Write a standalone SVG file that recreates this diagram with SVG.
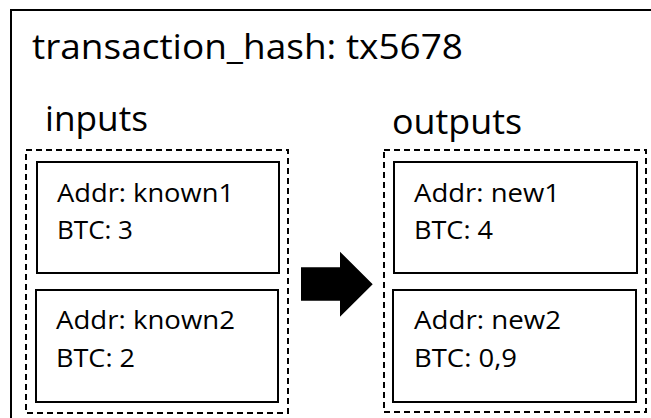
<svg xmlns="http://www.w3.org/2000/svg" width="651" height="418" viewBox="0 0 651 418">
  <style>
    .frame { fill: #fff; stroke: #000; stroke-width: 2; }
    .group { fill: none; stroke: #000; stroke-width: 2; stroke-dasharray: 6 4; }
    .box { fill: #fff; stroke: #000; stroke-width: 2; }
    .big { font-family: "Open Sans", "Noto Sans", sans-serif; font-size: 34px; fill: #000; }
    .txt { font-family: "Open Sans", "Noto Sans", sans-serif; font-size: 25px; fill: #000; }
  </style>
  <rect x="0" y="0" width="651" height="418" fill="#fff"/>
  <g id="transaction">
    <rect class="frame" x="11" y="10" width="700" height="500"/>
    <text class="big" x="32" y="59" textLength="431" lengthAdjust="spacingAndGlyphs">transaction_hash: tx5678</text>
  </g>
  <g id="inputs">
    <text class="big" x="45" y="131" textLength="103" lengthAdjust="spacingAndGlyphs">inputs</text>
    <rect class="group" x="26" y="150" width="262" height="263"/>
  </g>
  <g id="outputs">
    <text class="big" x="392" y="134" textLength="130" lengthAdjust="spacingAndGlyphs">outputs</text>
    <rect class="group" x="384" y="150" width="262" height="262"/>
  </g>
  <g id="known1">
    <rect class="box" x="37" y="162" width="242" height="111"/>
    <text class="txt" x="57" y="201.5" textLength="177" lengthAdjust="spacingAndGlyphs">Addr: known1</text>
    <text class="txt" x="57" y="238.5" textLength="76" lengthAdjust="spacingAndGlyphs">BTC: 3</text>
  </g>
  <g id="known2">
    <rect class="box" x="36" y="290" width="242" height="112"/>
    <text class="txt" x="56" y="329" textLength="179" lengthAdjust="spacingAndGlyphs">Addr: known2</text>
    <text class="txt" x="56" y="366.7" textLength="79" lengthAdjust="spacingAndGlyphs">BTC: 2</text>
  </g>
  <g id="new1">
    <rect class="box" x="394" y="162" width="243" height="111"/>
    <text class="txt" x="414" y="201.5" textLength="146" lengthAdjust="spacingAndGlyphs">Addr: new1</text>
    <text class="txt" x="414" y="238.5" textLength="79" lengthAdjust="spacingAndGlyphs">BTC: 4</text>
  </g>
  <g id="new2">
    <rect class="box" x="393" y="290" width="243" height="112"/>
    <text class="txt" x="414" y="329" textLength="147" lengthAdjust="spacingAndGlyphs">Addr: new2</text>
    <text class="txt" x="414" y="366.7" textLength="103" lengthAdjust="spacingAndGlyphs">BTC: 0,9</text>
  </g>
  <g id="connectors">
    <polygon points="301,267.3 340,267.3 340,251.7 372.7,284.3 340,316.7 340,300.7 301,300.7" fill="#000"/>
  </g>
</svg>
